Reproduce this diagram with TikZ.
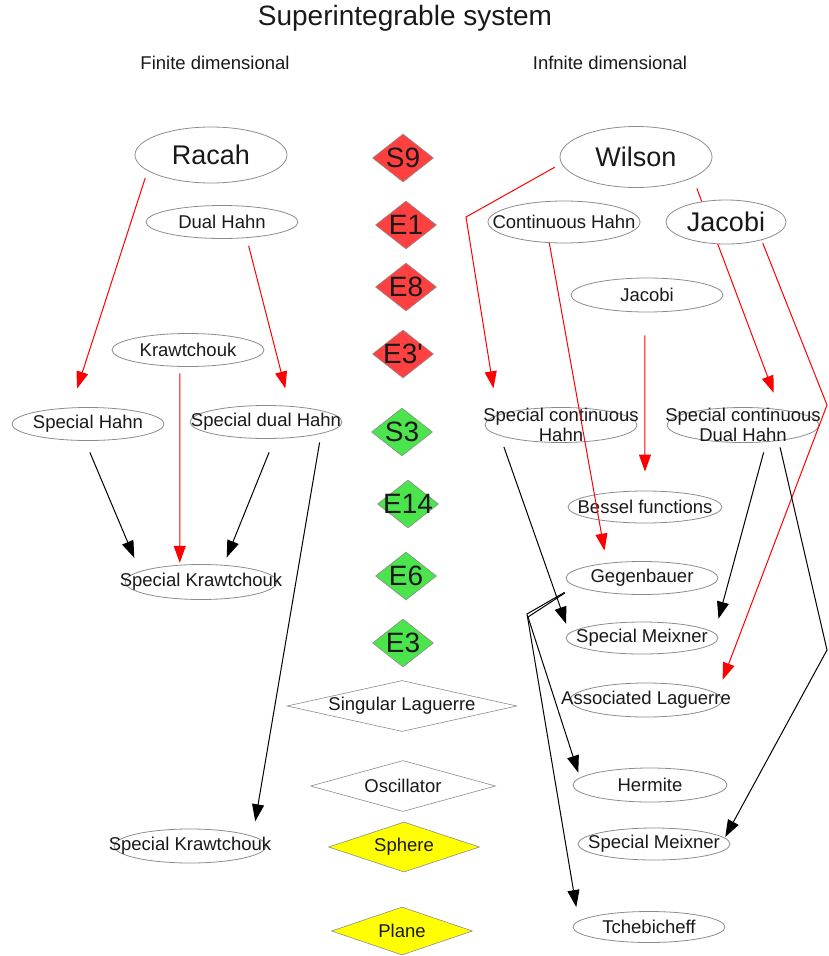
\documentclass[tikz,border=0pt]{standalone}
\usepackage{fontspec}
\setmainfont{Liberation Sans}
\newfontfamily\symfont{Liberation Sans}
\usetikzlibrary{shapes.geometric,arrows.meta}
\definecolor{symred}{RGB}{255,64,64}
\definecolor{symgreen}{RGB}{76,228,76}
\definecolor{symyellow}{RGB}{255,255,0}
\definecolor{rimgray}{RGB}{140,140,140}
\definecolor{inkgray}{RGB}{25,25,25}
\begin{document}
\begin{tikzpicture}[x=1pt,y=-1pt,
   >={Triangle[length=17pt,width=12pt]},
   every node/.style={text=inkgray,font=\fontsize{18.5}{20}\selectfont},
   oval/.style={ellipse,draw=rimgray,line width=0.8pt,inner xsep=-90pt,inner ysep=-15pt,
                minimum width=152pt,minimum height=33pt},
   bigoval/.style={oval,font=\fontsize{27}{30}\selectfont},
   sym/.style={diamond,draw=rimgray,line width=0.6pt,inner xsep=-90pt,inner ysep=-15pt,
               minimum width=61pt,minimum height=48pt,font=\symfont\fontsize{28}{30}\selectfont},
   wordsym/.style={sym,fill=white,minimum height=51pt,font=\fontsize{18.5}{20}\selectfont},
   link/.style={->,line width=1pt},
   redlink/.style={link,red}]
   \useasboundingbox (0,0) rectangle (828,956);
   \node[font=\fontsize{28}{30}\selectfont] (title) at (405,18) {Superintegrable system};
   \node (fin) at (215,63) {Finite dimensional};
   \node (inf) at (610,63) {Infnite dimensional};

   \node[bigoval,minimum height=56pt] (racah) at (211,155) {Racah};
   \node[oval] (dhahn) at (222,222) {Dual Hahn};
   \node[oval] (kraw) at (188,350) {Krawtchouk};
   \node[oval] (shahn) at (88,424) {Special Hahn};
   \node[oval] (sdhahn) at (266,422) {Special dual Hahn};
   \node[oval,minimum height=35pt] (skrawa) at (201,582) {Special Krawtchouk};
   \node[oval,minimum height=34pt] (skrawb) at (190,846) {Special Krawtchouk};

   \node[sym,fill=symred] (s9) at (403,158) {S9};
   \node[sym,fill=symred] (e1) at (406,225) {E1};
   \node[sym,fill=symred] (e8) at (406,287) {E8};
   \node[sym,fill=symred] (e3p) at (403,354) {E3'};
   \node[sym,fill=symgreen] (s3) at (402,432) {S3};
   \node[sym,fill=symgreen] (e14) at (408,504) {E14};
   \node[sym,fill=symgreen] (e6) at (406,576) {E6};
   \node[sym,fill=symgreen] (e3) at (403,643) {E3};
   \node[wordsym,minimum width=230pt] (slag) at (402,706) {Singular Laguerre};
   \node[wordsym,minimum width=185pt] (osc) at (403,786) {Oscillator};
   \node[wordsym,fill=symyellow,minimum width=151pt,minimum height=50pt] (sphere) at (404,847) {Sphere};
   \node[wordsym,fill=symyellow,minimum width=141pt,minimum height=48pt] (plane) at (402,931) {Plane};

   \node[bigoval,minimum height=61pt] (wilson) at (636,157) {Wilson};
   \node[oval,minimum height=42pt] (chahn) at (564,222) {Continuous Hahn};
   \node[oval,minimum height=34pt] (jacs) at (647,295) {Jacobi};
   \node[oval,minimum height=35pt,align=center] (schahn) at (561,425) {Special continuous\\Hahn};
   \node[oval,minimum height=35pt,align=center] (scdhahn) at (743,425) {Special continuous\\Dual Hahn};
   \node[oval,minimum width=154pt,minimum height=32pt] (bessel) at (645,507) {Bessel functions};
   \node[oval] (gegen) at (642,578) {Gegenbauer};
   \node[oval,minimum height=32pt] (smeixa) at (642,638) {Special Meixner};
   \node[oval,minimum height=34pt] (alag) at (646,700) {Associated Laguerre};
   \node[oval,minimum width=154pt,minimum height=34pt] (hermite) at (650,785) {Hermite};
   \node[oval,minimum height=32pt] (smeixb) at (654,844) {Special Meixner};
   \node[oval,minimum height=31pt] (tcheb) at (649,927) {Tchebicheff};

   \draw[redlink,shorten <=7.5pt,shorten >=20pt] (racah.194) -- (shahn.136);
   \draw[redlink,shorten <=8pt,shorten >=18pt] (dhahn.-33) -- (sdhahn.34);
   \draw[redlink,shorten <=6.6pt,shorten >=2pt] (kraw.244) -- (skrawa.141);
   \draw[link,shorten <=12.5pt,shorten >=14.5pt] (shahn.260) -- (skrawa.170);
   \draw[link,shorten <=14.6pt,shorten >=8pt] (sdhahn.297) -- (skrawa.37);
   \draw[link,shorten <=8.8pt,shorten >=15pt] (sdhahn.348) -- (skrawb.9);

   \coordinate (wbend) at (466,217);
   \draw[redlink,shorten <=7.6pt,shorten >=27pt] (wilson.185) -- (wbend) -- (schahn.171);
   \draw[redlink,shorten <=11.5pt,shorten >=17.7pt] (wilson.340) -- (scdhahn.23);
   \node[bigoval,fill=white,minimum width=120pt,minimum height=44pt] (jacb) at (726,222) {Jacobi};
   \coordinate (jbend) at (827,405);
   \draw[redlink,shorten <=3.3pt,shorten >=15pt] (jacb.333) -- (jbend) -- (alag.5);
   \draw[redlink,shorten >=12.6pt] (chahn.235) -- (gegen.157);
   \draw[redlink,shorten <=23pt,shorten >=19pt] (jacs.263) -- (bessel.north);
   \draw[link,shorten <=12pt,shorten >=9.6pt] (schahn.190) -- (smeixa.176);
   \draw[link,shorten <=10.7pt,shorten >=14.7pt] (scdhahn.324) -- (smeixa.4);
   \coordinate (sbend) at (827,650);
   \draw[link,shorten <=6.7pt,shorten >=1pt] (scdhahn.336) -- (sbend) -- (smeixb.5);
   \coordinate (gbend) at (528,617);
   \coordinate (gtick) at (527,614);
   \draw[link,shorten <=12.3pt,shorten >=5.3pt] (gegen.187) -- (gbend) -- (hermite.174);
   \draw[link,shorten <=12.3pt,shorten >=14pt] (gegen.187) -- (gtick) -- (tcheb.175);
\end{tikzpicture}
\end{document}
